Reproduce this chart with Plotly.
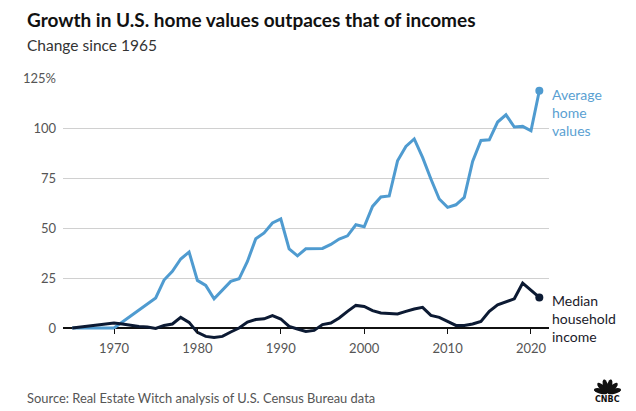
import math
import plotly.graph_objects as go

years = list(range(1965, 2022))
home_values = [0, 0, 0, 0, 0, 0, 3, 6, 9, 12, 15, 24, 28.3, 34.5, 38, 23.8, 21.3, 14.6, 19.1, 23.3,
               24.6, 33.3, 44.6, 47.5, 52.5, 54.5, 39.6, 36.1, 39.6, 39.6, 39.8, 41.8, 44.5, 46.1, 51.6, 50.6,
               60.8, 65.5, 66, 83.6, 90.8, 94.5, 85.3, 74.5, 64.5, 60.3, 61.6, 65.3, 83.3, 93.8, 94.1,
               103, 106.6, 100.5, 100.8, 98.6, 118.6]
household_income = [0, 0.5, 1, 1.5, 2, 2.5, 2, 1.3, 0.8, 0.5, -0.2, 1.3, 2, 5.3, 2.8, -2.2, -4.2, -4.7, -4.2, -2,
                    0, 3, 4.2, 4.6, 6.2, 4.5, 0.8, -0.5, -1.7, -1.2, 1.7, 2.5, 5, 8.3, 11.3, 10.8,
                    8.7, 7.5, 7.2, 7, 8.3, 9.5, 10.3, 6.3, 5.3, 3.3, 1.3, 1.3, 2, 3.3, 8.3,
                    11.6, 13.3, 14.6, 22.5, 19.1, 15.3]
x_ticks = [1970, 1980, 1990, 2000, 2010, 2020]
y_ticks = [0, 25, 50, 75, 100, 125]
y_tick_text = ["0", "25", "50", "75", "100", "125%"]

BLUE = "#4f9bd0"
NAVY = "#0c1a33"
FONT = "Lato"

W, H = 636, 411
L, R, T, B = 63, 549, 78, 342
Y_MIN, Y_MAX = -7, 125
X_MIN, X_MAX = 1963.885, 2022.16


def px(x):
    return (x - L) / (R - L)


def py(y):
    return (B - y) / (B - T)


fig = go.Figure()
fig.add_trace(go.Scatter(x=years, y=home_values, mode="lines",
                         line=dict(color=BLUE, width=3), hoverinfo="skip"))
fig.add_trace(go.Scatter(x=years, y=household_income, mode="lines",
                         line=dict(color=NAVY, width=3), hoverinfo="skip"))
fig.add_trace(go.Scatter(x=[years[-1]], y=[home_values[-1]], mode="markers",
                         marker=dict(color=BLUE, size=8), hoverinfo="skip"))
fig.add_trace(go.Scatter(x=[years[-1]], y=[household_income[-1]], mode="markers",
                         marker=dict(color=NAVY, size=8), hoverinfo="skip"))

annotations = [
    dict(x=px(25), y=py(20), text="<b>Growth in U.S. home values outpaces that of incomes</b>",
         font=dict(size=19, color="#111111", family=FONT)),
    dict(x=px(25), y=py(45), text="Change since 1965",
         font=dict(size=15.5, color="#333333", family=FONT)),
    dict(x=px(25), y=py(398), text="Source: Real Estate Witch analysis of U.S. Census Bureau data",
         font=dict(size=12.9, color="#555555", family=FONT)),
    dict(x=px(550), y=py(112.5), text="Average<br>home<br>values",
         font=dict(size=14, color="#5a9fd2", family=FONT)),
    dict(x=px(550), y=py(318.5), text="Median<br>household<br>income",
         font=dict(size=14, color="#1a1a2a", family=FONT)),
    dict(x=px(607.5), y=py(399), text="<b>CNBC</b>",
         font=dict(size=8, color="#111111", family="DejaVu Sans"), xanchor="center"),
]
for a in annotations:
    a.setdefault("xanchor", "left")
    a.update(xref="paper", yref="paper", yanchor="middle", showarrow=False, align="left")

# CNBC peacock (decorative)
shapes = []
cx, cy = 607.5, 393
for i in range(6):
    ang = math.radians(165 - i * 30)
    pts = []
    for k in range(20):
        t = 2 * math.pi * k / 20
        u = 7 + 7 * math.cos(t)
        v = 2.6 * math.sin(t)
        xx = cx + u * math.cos(ang) - v * math.sin(ang)
        yy = cy - (u * math.sin(ang) + v * math.cos(ang))
        pts.append((px(xx), py(yy)))
    path = "M " + " L ".join(f"{a:.5f},{b:.5f}" for a, b in pts) + " Z"
    shapes.append(dict(type="path", path=path, xref="paper", yref="paper",
                       fillcolor="#111111", line=dict(width=0)))

fig.update_layout(
    width=W, height=H,
    margin=dict(l=L, r=W - R, t=T, b=H - B),
    paper_bgcolor="white", plot_bgcolor="white",
    showlegend=False,
    annotations=annotations,
    shapes=shapes,
    font=dict(family=FONT),
    xaxis=dict(range=[X_MIN, X_MAX], tickvals=x_ticks, showgrid=False, zeroline=False,
               showline=False, ticks="outside", ticklen=5, tickcolor="#111111", tickwidth=1,
               anchor="free", position=(0 - Y_MIN) / (Y_MAX - Y_MIN),
               tickfont=dict(size=13, color="#555555", family=FONT), ticklabelstandoff=3),
    yaxis=dict(range=[Y_MIN, Y_MAX], tickvals=y_ticks, ticktext=y_tick_text,
               showgrid=True, gridcolor="#d0d0d0", gridwidth=1,
               zeroline=True, zerolinecolor="#111111", zerolinewidth=1.5,
               showline=False, ticks="", ticklabelstandoff=6,
               tickfont=dict(size=13, color="#555555", family=FONT)),
)

fig.write_html("out.html")
